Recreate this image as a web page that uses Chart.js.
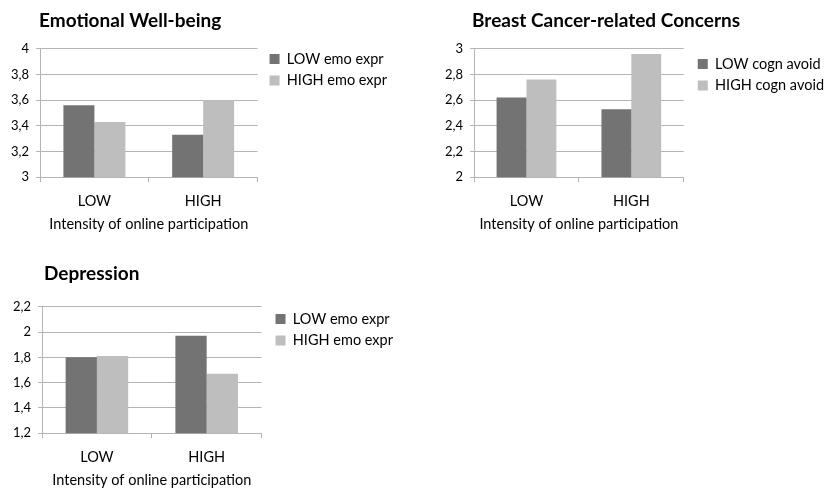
<!DOCTYPE html>
<html>
<head>
<meta charset="utf-8">
<script src="https://cdn.jsdelivr.net/npm/chart.js@4"></script>
<style>
  body { margin: 0; background: #fff; overflow: hidden; }
  .box { position: absolute; }
</style>
</head>
<body>
<div class="box" style="left:0;top:0;width:410px;height:245px"><canvas id="wellbeingChart"></canvas></div>
<div class="box" style="left:434px;top:0;width:393px;height:245px"><canvas id="concernsChart"></canvas></div>
<div class="box" style="left:2px;top:250px;width:408px;height:238px"><canvas id="depressionChart"></canvas></div>
<script>
const categories = ["LOW", "HIGH"];
const axisTitle = "Intensity of online participation";

// Emotional Well-being
const wellbeingLowEmo = [3.56, 3.33];
const wellbeingHighEmo = [3.43, 3.6];

// Breast Cancer-related Concerns
const concernsLowAvoid = [2.62, 2.53];
const concernsHighAvoid = [2.76, 2.96];

// Depression
const depressionLowEmo = [1.8, 1.97];
const depressionHighEmo = [1.81, 1.67];

const DARK = "#737373";
const LIGHT = "#bebebe";
const GRID = "#b4b4b4";
const FONT = "Lato, 'Open Sans', sans-serif";

function commaTick(v) {
  return String(Math.round(v * 10) / 10).replace(".", ",");
}

// moves the title to start at the plot's left edge and the legend a bit right
const nudge = {
  id: "nudge",
  afterLayout(chart, args, opts) {
    if (chart.titleBlock) chart.titleBlock.left = chart.chartArea.left + opts.titleDx;
    const lg = chart.legend;
    if (lg) {
      lg.left += opts.legendDx;
      lg.right += opts.legendDx + 20;
      lg.top += opts.legendDy;
      lg.bottom += opts.legendDy;
    }
  },
};

function renderChart(id, title, names, series, min, max, pad) {
  const ctx = document.getElementById(id);
  if (!ctx) return;
  new Chart(ctx, {
    type: "bar",
    data: {
      labels: categories,
      datasets: series.map((data, i) => ({
        label: names[i],
        data: data,
        backgroundColor: i === 0 ? DARK : LIGHT,
        borderWidth: 0,
        barPercentage: 1,
        categoryPercentage: 0.57,
      })),
    },
    plugins: [nudge],
    options: {
      responsive: true,
      maintainAspectRatio: false,
      animation: false,
      layout: { padding: { top: pad.top, left: 4, right: pad.right, bottom: pad.bottom } },
      plugins: {
        nudge: { titleDx: pad.titleDx, legendDx: pad.legendDx, legendDy: pad.legendDy },
        title: {
          display: true,
          text: title,
          align: "start",
          color: "#000",
          font: { family: FONT, size: 19, weight: "bold" },
          padding: { top: 0, bottom: pad.titleGap },
        },
        legend: {
          position: "right",
          align: "start",
          fullSize: false,
          maxWidth: 200,
          labels: {
            color: "#000",
            boxWidth: 10,
            boxHeight: 10,
            padding: 7,
            font: { family: FONT, size: 14.5 },
          },
        },
        tooltip: { enabled: false },
      },
      scales: {
        y: {
          min: min,
          max: max,
          ticks: {
            stepSize: 0.2,
            color: "#000",
            padding: 7,
            font: { family: FONT, size: 13 },
            callback: commaTick,
          },
          grid: { color: GRID, tickLength: 4 },
          border: { color: GRID },
        },
        x: {
          ticks: { color: "#000", padding: 10, font: { family: FONT, size: 14.5 } },
          grid: { drawOnChartArea: false, color: GRID, tickLength: 5 },
          border: { color: GRID },
          title: {
            display: true,
            text: axisTitle,
            color: "#000",
            padding: { top: -4, bottom: pad.axisTitleBottom },
            font: { family: FONT, size: 14.5 },
          },
        },
      },
    },
  });
}

renderChart("wellbeingChart", "Emotional Well-being",
  ["LOW emo expr", "HIGH emo expr"], [wellbeingLowEmo, wellbeingHighEmo], 3, 4,
  { top: 9, titleGap: 17, bottom: 12, axisTitleBottom: 0, right: 18,
    titleDx: -1, legendDx: 5, legendDy: -4 });
renderChart("concernsChart", "Breast Cancer-related Concerns",
  ["LOW cogn avoid", "HIGH cogn avoid"], [concernsLowAvoid, concernsHighAvoid], 2, 3,
  { top: 9, titleGap: 17, bottom: 12, axisTitleBottom: 0, right: 0,
    titleDx: -2, legendDx: 7, legendDy: 1 });
renderChart("depressionChart", "Depression",
  ["LOW emo expr", "HIGH emo expr"], [depressionLowEmo, depressionHighEmo], 1.2, 2.2,
  { top: 12, titleGap: 22, bottom: 0, axisTitleBottom: -1, right: 14,
    titleDx: 2, legendDx: 7, legendDy: -2 });
</script>
</body>
</html>
